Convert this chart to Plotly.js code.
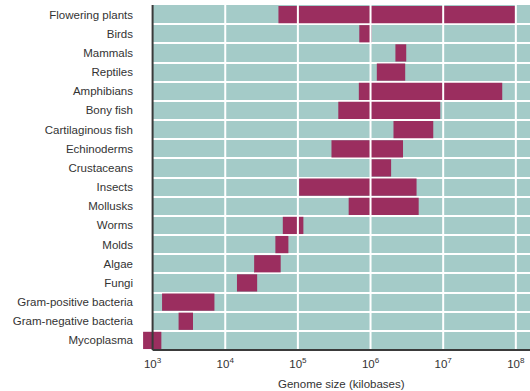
<!DOCTYPE html>
<html>
<head>
<meta charset="utf-8">
<script src="https://cdn.plot.ly/plotly-3.0.1.min.js"></script>
<style>html,body{margin:0;padding:0;background:#fff;}#chart{width:530px;height:391px;}</style>
</head>
<body>
<div id="chart"></div>
<script>
// Categories, top to bottom
const groups = ["Flowering plants","Birds","Mammals","Reptiles","Amphibians","Bony fish","Cartilaginous fish","Echinoderms","Crustaceans","Insects","Mollusks","Worms","Molds","Algae","Fungi","Gram-positive bacteria","Gram-negative bacteria","Mycoplasma"];
// Genome size ranges in kilobases
const minSize = [54000, 700000, 2200000, 1220000, 690000, 360000, 2070000, 290000, 1020000, 104000, 500000, 62000, 49000, 25000, 14500, 1350, 2280, 740];
const maxSize = [98000000, 1030000, 3100000, 3000000, 65000000, 9100000, 7300000, 2800000, 1920000, 4300000, 4600000, 119000, 74000, 58000, 27500, 7100, 3600, 1320];
const tickVals = [1e3, 1e4, 1e5, 1e6, 1e7, 1e8];
const tickText = ["10<sup>3</sup>","10<sup>4</sup>","10<sup>5</sup>","10<sup>6</sup>","10<sup>7</sup>","10<sup>8</sup>"];
const xTitle = "Genome size (kilobases)";

const teal = "#a4cbc8";
const barColor = "#9b2e5f";
const axisDark = "#3a3a3a";
const font = "Liberation Sans, Arial, Helvetica, sans-serif";

// axis range in log10 units; the panel starts at 10^3, bars may stick out to its left
const xRange = [2.868, 8.195];
const toPaper = v => (Math.log10(v) - xRange[0]) / (xRange[1] - xRange[0]);
const panelStart = toPaper(tickVals[0]);

const trace = {
  type: "bar",
  orientation: "h",
  y: groups,
  base: minSize,
  x: maxSize.map((v, i) => v - minSize[i]),
  marker: {color: barColor, line: {width: 0}},
  hoverinfo: "skip"
};

const shapes = [
  // teal panel
  {type: "rect", xref: "paper", yref: "paper", x0: panelStart, x1: 1, y0: 0, y1: 1,
   fillcolor: teal, line: {width: 0}, layer: "below"},
  // decade lines over bars
  ...tickVals.slice(1).map(v => ({
    type: "line", xref: "paper", yref: "paper", x0: toPaper(v), x1: toPaper(v), y0: 0, y1: 1,
    line: {color: "#ffffff", width: 2}, layer: "above"
  })),
  // axis lines
  {type: "line", xref: "paper", yref: "paper", x0: panelStart, x1: panelStart, y0: 0, y1: 1,
   line: {color: axisDark, width: 2}, layer: "above"},
  {type: "line", xref: "paper", yref: "paper", x0: panelStart, x1: 1, y0: 0, y1: 0,
   line: {color: axisDark, width: 2}, layer: "above"}
];

const layout = {
  width: 530, height: 391,
  margin: {l: 143, r: 0, t: 5, b: 41},
  paper_bgcolor: "#ffffff",
  plot_bgcolor: "#ffffff",
  showlegend: false,
  bargap: 0.1,
  font: {family: font, size: 11.5, color: "#333333"},
  xaxis: {
    type: "log",
    range: xRange,
    tickvals: tickVals,
    ticktext: tickText,
    showgrid: false,
    zeroline: false,
    showline: false,
    ticks: "",
    ticklabelstandoff: 5,
    tickfont: {size: 11.5, color: "#333333"},
    fixedrange: true
  },
  yaxis: {
    type: "category",
    categoryorder: "array",
    categoryarray: groups,
    autorange: "reversed",
    tickson: "boundaries",
    showgrid: true,
    gridcolor: "#ffffff",
    gridwidth: 2,
    showline: false,
    zeroline: false,
    ticks: "",
    ticklabelstandoff: 9,
    tickfont: {size: 11.5, color: "#333333"},
    fixedrange: true
  },
  shapes: shapes,
  annotations: [{
    text: xTitle, xref: "paper", yref: "paper", x: (panelStart + 1) / 2, y: 0,
    yshift: -34, xanchor: "center", yanchor: "middle", showarrow: false,
    font: {size: 11.5, color: "#333333"}
  }]
};

Plotly.newPlot("chart", [trace], layout, {displayModeBar: false, staticPlot: true});
</script>
</body>
</html>
